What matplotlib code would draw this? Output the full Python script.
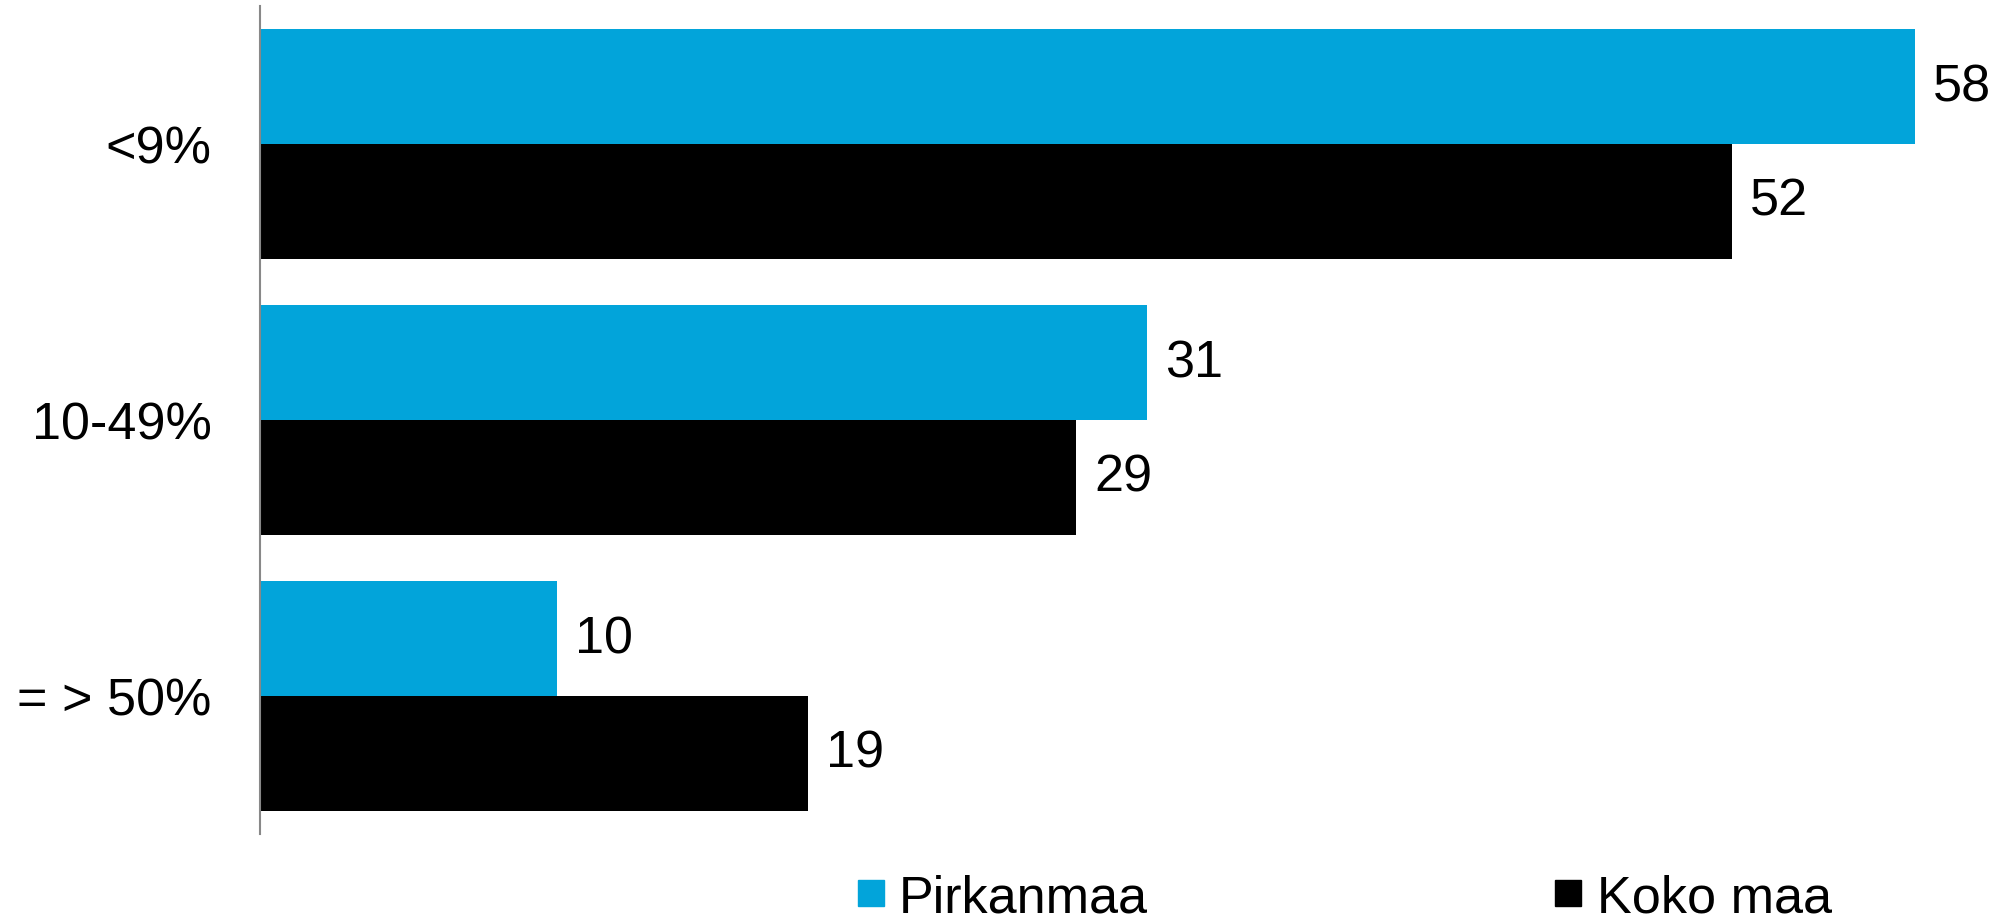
import matplotlib.pyplot as plt
import numpy as np
from matplotlib.lines import Line2D

plt.rcParams['font.family'] = ['Liberation Sans', 'DejaVu Sans']

# Data (labels are rounded)
categories = ["<9%", "10-49%", "= > 50%"]
pirkanmaa = [58.0, 31.1, 10.4]
koko_maa = [51.6, 28.6, 19.2]

blue = "#02A4DA"

fig = plt.figure(figsize=(19.95, 9.2), dpi=100)
ax = fig.add_axes([260 / 1995, 1 - 835 / 920, 1712 / 1995, 828 / 920])

y = np.arange(len(categories))
h = 0.415
ax.barh(y - h / 2, pirkanmaa, height=h, color=blue, label="Pirkanmaa")
ax.barh(y + h / 2, koko_maa, height=h, color="black", label="Koko maa")

for yi, v in zip(y, pirkanmaa):
    ax.text(v + 0.63, yi - h / 2, f"{v:.0f}", va="center", ha="left", fontsize=37.5)
for yi, v in zip(y, koko_maa):
    ax.text(v + 0.63, yi + h / 2, f"{v:.0f}", va="center", ha="left", fontsize=37.5)

ax.set_ylim(len(categories) - 0.5, -0.5)
ax.set_xlim(0, 60)
ax.set_yticks(y)
ax.set_yticklabels(categories, fontsize=37.5)
ax.tick_params(axis="y", length=0, pad=35)
ax.set_xticks([])
for s in ["top", "right", "bottom"]:
    ax.spines[s].set_visible(False)
ax.spines["left"].set_color("#888888")
ax.spines["left"].set_linewidth(1.5)

handles = [
    Line2D([], [], marker="s", linestyle="none", markersize=19.4, color=blue),
    Line2D([], [], marker="s", linestyle="none", markersize=19.4, color="black"),
]
fig.legend(handles, ["Pirkanmaa", "Koko maa"], loc="center left",
           bbox_to_anchor=(857 / 1995, 1 - 899 / 920), ncol=2, frameon=False,
           fontsize=37.5, handlelength=0.52, handletextpad=0.29,
           columnspacing=7.8, borderpad=0, borderaxespad=0)

fig.savefig("out.png", dpi=100)
